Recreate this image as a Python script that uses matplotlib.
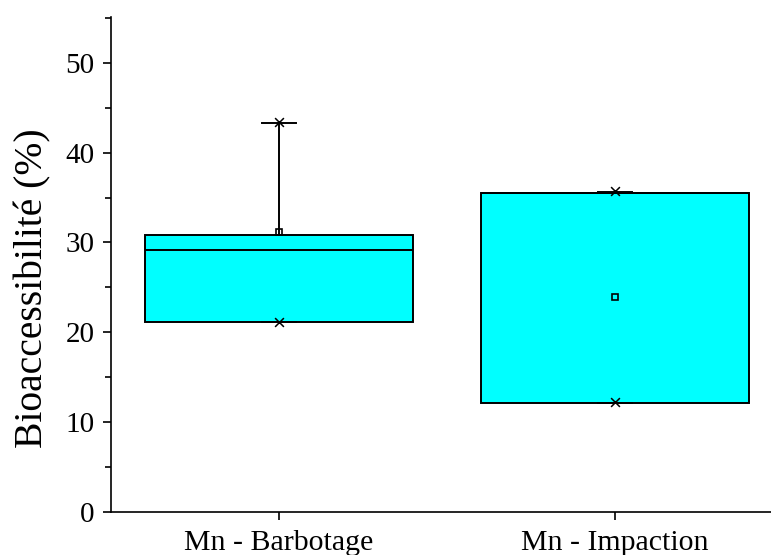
import matplotlib
matplotlib.use("Agg")
import matplotlib.pyplot as plt
from matplotlib.ticker import MultipleLocator

categories = ["Mn - Barbotage", "Mn - Impaction"]
q1 = [21.2, 12.1]
q3 = [30.8, 35.5]
medians = [29.2, 35.5]
means = [31.2, 23.9]
whis_lo = [21.2, 12.1]
whis_hi = [43.3, 35.6]
data_min = [21.2, 12.2]
data_max = [43.4, 35.7]

plt.rcParams['font.family'] = ['Liberation Serif', 'DejaVu Serif']

fig = plt.figure(figsize=(7.71, 5.55), dpi=100)
W, H = 771, 555
left, right, bottom, top = 111, 783, 512, 17
ax = fig.add_axes([left / W, 1 - bottom / H, (right - left) / W, (bottom - top) / H])

stats = []
for i, c in enumerate(categories):
    stats.append(dict(label=c, med=medians[i], q1=q1[i], q3=q3[i],
                      whislo=whis_lo[i], whishi=whis_hi[i], mean=means[i], fliers=[]))

positions = [1, 2]
ax.bxp(stats, positions=positions, widths=0.8, patch_artist=True, showmeans=True,
       showfliers=False, capwidths=0.1,
       boxprops=dict(facecolor='#00FFFF', edgecolor='black', linewidth=1.4),
       medianprops=dict(color='black', linewidth=1.4),
       whiskerprops=dict(color='black', linewidth=1.4),
       capprops=dict(color='black', linewidth=1.4),
       meanprops=dict(marker='s', markerfacecolor='none', markeredgecolor='black',
                      markersize=5, markeredgewidth=1.2))

ax.scatter(positions, data_min, marker='x', color='black', s=40, linewidths=1.1, zorder=5)
ax.scatter(positions, data_max, marker='x', color='black', s=40, linewidths=1.1, zorder=5)

ax.set_xlim(0.5, 2.5)
ax.set_ylim(0, 55.1)
ax.yaxis.set_major_locator(MultipleLocator(10))
ax.yaxis.set_minor_locator(MultipleLocator(5))
ax.set_xticks(positions)
ax.set_xticklabels(categories)

for s in ['top', 'right']:
    ax.spines[s].set_visible(False)
for s in ['left', 'bottom']:
    ax.spines[s].set_linewidth(1.2)

ax.tick_params(axis='both', which='major', direction='out', length=6, width=1.2, colors='black')
ax.tick_params(axis='y', which='major', labelsize=21, pad=6)
ax.tick_params(axis='y', which='minor', direction='out', length=4, width=1.2)
ax.tick_params(axis='x', which='major', labelsize=21.5, pad=7)
ax.set_ylabel('Bioaccessibilité (%)', fontsize=28.5)
ax.yaxis.set_label_coords(-0.088, 0.4525)

fig.savefig('out.png', dpi=100)
